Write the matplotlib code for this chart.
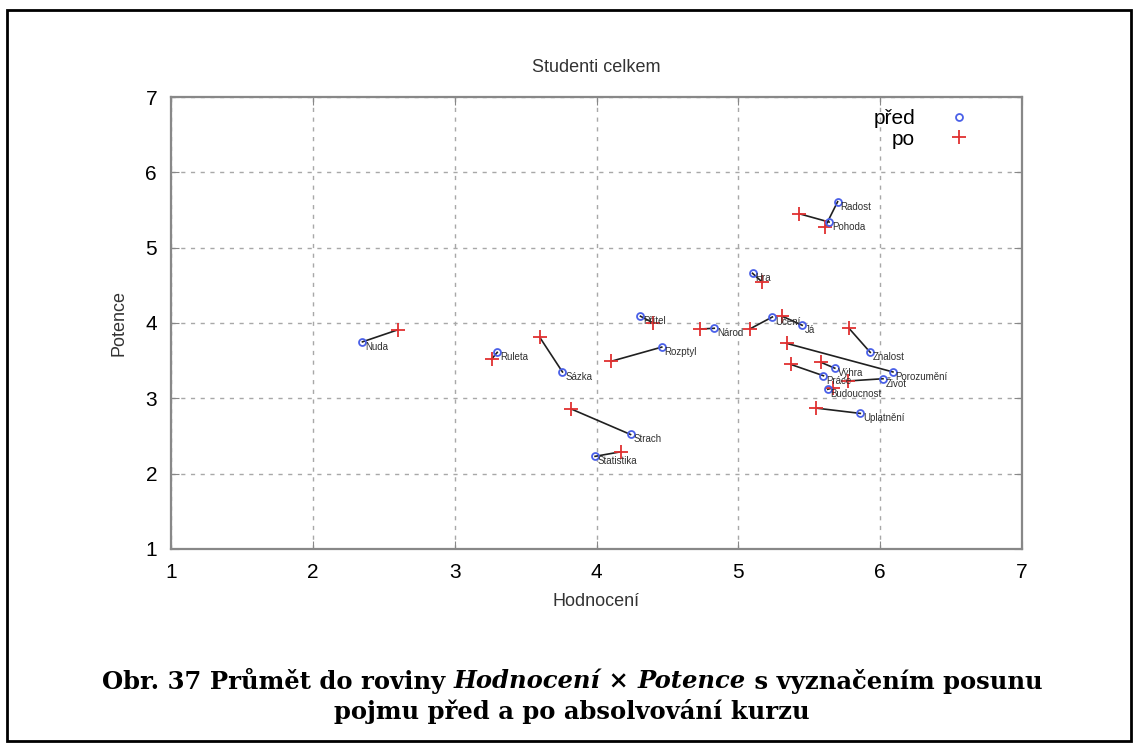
import matplotlib
matplotlib.use("Agg")
import matplotlib.pyplot as plt
from matplotlib.patches import Rectangle

plt.rcParams['font.family'] = ['Liberation Sans', 'DejaVu Sans']

names = ["Radost", "Pohoda", "Hra", "Přítel", "Národ", "Učení", "Já", "Rozptyl",
         "Znalost", "Porozumění", "Výhra", "Práce", "Život", "Budoucnost",
         "Uplatnění", "Nuda", "Ruleta", "Sázka", "Strach", "Statistika"]
pred_x = [5.70, 5.64, 5.10, 4.31, 4.83, 5.24, 5.45, 4.46, 5.93, 6.09, 5.68, 5.60,
          6.02, 5.63, 5.86, 2.35, 3.30, 3.76, 4.24, 3.99]
pred_y = [5.61, 5.34, 4.66, 4.09, 3.93, 4.08, 3.97, 3.68, 3.61, 3.35, 3.40, 3.30,
          3.26, 3.12, 2.80, 3.75, 3.61, 3.35, 2.52, 2.23]
po_x = [5.61, 5.43, 5.17, 4.40, 4.73, 5.08, 5.31, 4.10, 5.78, 5.34, 5.58, 5.37,
        5.77, 5.67, 5.55, 2.60, 3.26, 3.60, 3.82, 4.17]
po_y = [5.27, 5.45, 4.54, 4.00, 3.92, 3.92, 4.09, 3.49, 3.93, 3.73, 3.48, 3.45,
        3.23, 3.14, 2.87, 3.91, 3.52, 3.81, 2.86, 2.29]
ticks = [1, 2, 3, 4, 5, 6, 7]

caption_parts = [("Obr. 37 Průmět do roviny ", 'normal'), ("Hodnocení", 'italic'),
                 (" × ", 'normal'), ("Potence", 'italic'),
                 (" s vyznačením posunu", 'normal')]
caption_line2 = "pojmu před a po absolvování kurzu"

fig = plt.figure(figsize=(11.39, 7.51), dpi=100)
fig.patch.set_facecolor('white')
ax = fig.add_axes([171/1139, 1-549/751, 851/1139, 452/751])

for px, py, qx, qy in zip(pred_x, pred_y, po_x, po_y):
    ax.plot([px, qx], [py, qy], color='#202020', lw=1.2, zorder=2)

ax.plot(pred_x, pred_y, 'o', mfc='none', mec='#4a60e8', mew=1.3, ms=5,
        label='před', zorder=4, ls='none')
ax.plot(po_x, po_y, '+', color='#e03030', mew=1.3, ms=10,
        label='po', zorder=3, ls='none')

for n, px, py in zip(names, pred_x, pred_y):
    ax.annotate(n, (px, py), xytext=(2, -3.5), textcoords='offset points',
                ha='left', va='center', fontsize=7, color='#303030', zorder=5)

ax.set_xlim(1, 7)
ax.set_ylim(1, 7)
ax.set_xticks(ticks)
ax.set_yticks(ticks)
ax.grid(True, color='#a8a8a8', ls=(0, (3, 4)), lw=1)
for s in ax.spines.values():
    s.set_color('#888888')
    s.set_linewidth(1.6)
ax.tick_params(direction='in', length=6, color='#888888', labelsize=15,
               top=True, right=True, pad=10)

ax.set_title('Studenti celkem', fontsize=13, color='#333333', pad=18)
ax.set_xlabel('Hodnocení', fontsize=13, color='#333333', labelpad=8)
ax.set_ylabel('Potence', fontsize=13, color='#333333', labelpad=13)

leg = ax.legend(loc='upper right', bbox_to_anchor=(0.955, 1.0), frameon=False,
                markerfirst=False, fontsize=15, handlelength=1.2,
                handletextpad=1.5, labelspacing=0.05, borderaxespad=0.2)

# caption: line 1 built from pieces with different styles
renderer = fig.canvas.get_renderer()
cap_size = 17.5
texts = []
for txt, style in caption_parts:
    t = fig.text(0, 1-681/751, txt, ha='left', va='center', fontsize=cap_size,
                 fontweight='bold', fontstyle=style, family='DejaVu Serif')
    texts.append(t)
widths = [t.get_window_extent(renderer).width for t in texts]
total = sum(widths)
x0 = (572 - total/2)
for t, w in zip(texts, widths):
    t.set_x(x0/1139)
    x0 += w
fig.text(572/1139, 1-712/751, caption_line2, ha='center', va='center',
         fontsize=cap_size, fontweight='bold', family='DejaVu Serif')

fig.patches.append(Rectangle((7/1139, 1-741/751), 1124/1139, 731/751,
                             transform=fig.transFigure, fill=False,
                             edgecolor='black', lw=2))

fig.savefig('out.png', dpi=100)
